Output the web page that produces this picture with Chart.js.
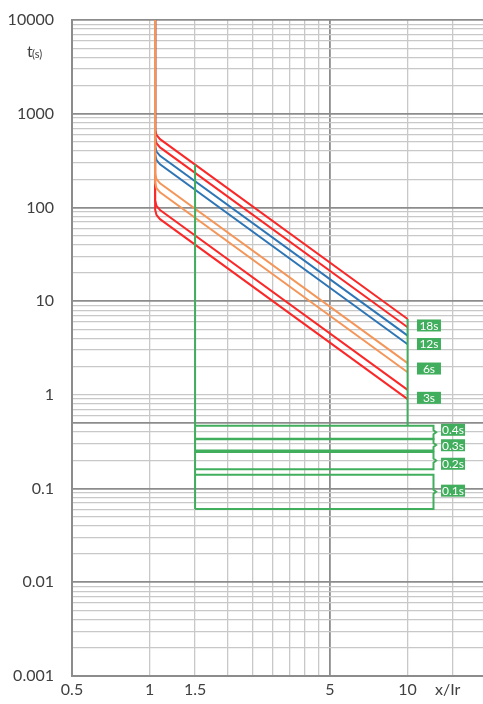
<!DOCTYPE html>
<html>
<head>
<meta charset="utf-8">
<script src="https://cdn.jsdelivr.net/npm/chart.js@4.4.0/dist/chart.umd.min.js"></script>
<style>html,body{margin:0;padding:0;background:#fff}</style>
</head>
<body>
<canvas id="chart" width="483" height="704"></canvas>
<script>
// long-time curves: vertical at 1.05 Ir, rounded knee, then I2t slope to 10 Ir
const curveX = [1.05, 1.05, 1.063, 1.097, 10];
const t18Hi = [10000, 679, 594, 535, 6.45];
const t18Lo = [10000, 554, 485, 437, 5.26];
const t12Hi = [10000, 451, 394, 355, 4.28];
const t12Lo = [10000, 365, 320, 288, 3.47];
const t6Hi = [10000, 229, 201, 181, 2.18];
const t6Lo = [10000, 184, 161, 145, 1.745];
const t3Hi = [10000, 119, 104, 94, 1.13];
const t3Lo = [10000, 95, 83, 75, 0.90];

// short-time bands (green)
const stLeftX = [1.5, 1.5];
const stLeftT = [287, 0.0606];
const stRightX = [10, 10];
const stRightT = [6.45, 0.468];
const bandX = [1.5, 12.6, 12.6, 12.9, 12.6, 12.6, 1.5];
const band04T = [0.468, 0.468, 0.419, 0.399, 0.380, 0.340, 0.340];
const band03T = [0.335, 0.335, 0.307, 0.292, 0.278, 0.255, 0.255];
const band02T = [0.245, 0.245, 0.209, 0.199, 0.189, 0.161, 0.161];
const band01T = [0.1406, 0.1406, 0.097, 0.0923, 0.088, 0.0606, 0.0606];

// setting labels
const boxLabels = ["18s", "12s", "6s", "3s", "0.4s", "0.3s", "0.2s", "0.1s"];
const boxX = [12.1, 12.1, 12.1, 12.1, 15, 15, 15, 15];
const boxY = [5.5, 3.49, 1.91, 0.93, 0.424, 0.29, 0.184, 0.095];

// axes
const xGrid = [0.5, 1, 1.5, 2, 2.5, 3, 3.5, 4, 4.5, 5, 10, 15];
const xLabelVals = [0.5, 1, 1.5, 5, 10];
const xLabels = ["0.5", "1", "1.5", "5", "10"];
const xDark = [0.5, 5];
const yGrid = [];
[0.001, 0.01, 0.1, 1, 10, 100, 1000].forEach(d => {
  for (let m = 1; m < 10; m++) yGrid.push(+(m * d).toPrecision(3));
});
yGrid.push(10000);
const yLabelVals = [0.001, 0.01, 0.1, 1, 10, 100, 1000, 10000];
const yLabels = ["0.001", "0.01", "0.1", "1", "10", "100", "1000", "10000"];
const yDark = [0.001, 0.01, 0.1, 0.5, 10, 100, 1000, 10000];

const RED = "rgb(250,40,40)";
const BLUE = "rgb(46,117,182)";
const ORANGE = "rgb(244,150,90)";
const GREEN = "rgb(64,174,92)";
const FONT = "Lato";

const near = (v, arr) => arr.findIndex(a => Math.abs(a - v) / a < 1e-6);
const pts = (xs, ts) => xs.map((x, i) => ({ x: x, y: ts[i] }));
const line = (xs, ts, color) => ({
  data: pts(xs, ts),
  showLine: true,
  borderColor: color,
  borderWidth: 2,
  pointRadius: 0,
  tension: 0,
  fill: false,
});

const labelPlugin = {
  id: "labels",
  afterDatasetsDraw(chart) {
    const ctx = chart.ctx;
    const xs = chart.scales.x, ys = chart.scales.y;
    ctx.save();
    ctx.font = "12px " + FONT;
    ctx.textAlign = "center";
    ctx.textBaseline = "middle";
    boxLabels.forEach((txt, i) => {
      const px = xs.getPixelForValue(boxX[i]);
      const py = ys.getPixelForValue(boxY[i]);
      ctx.fillStyle = GREEN;
      ctx.fillRect(px - 12, py - 6, 24, 12);
      ctx.fillStyle = "#fff";
      ctx.fillText(txt, px, py + 0.5);
    });
    // axis titles
    ctx.fillStyle = "#404040";
    ctx.textAlign = "left";
    ctx.font = "16px " + FONT;
    ctx.fillText("t", 27, 52);
    ctx.font = "11px " + FONT;
    ctx.fillText("(s)", 32, 54);
    ctx.font = "16px " + FONT;
    ctx.textAlign = "center";
    ctx.fillText("x/Ir", xs.getPixelForValue(14.3), 690);
    ctx.restore();
  },
};

new Chart(document.getElementById("chart"), {
  type: "scatter",
  data: {
    datasets: [
      line(stLeftX, stLeftT, GREEN),
      line(stRightX, stRightT, GREEN),
      line(bandX, band04T, GREEN),
      line(bandX, band03T, GREEN),
      line(bandX, band02T, GREEN),
      line(bandX, band01T, GREEN),
      line(curveX, t6Hi, ORANGE),
      line(curveX, t6Lo, ORANGE),
      line(curveX, t12Hi, BLUE),
      line(curveX, t12Lo, BLUE),
      line(curveX, t18Hi, RED),
      line(curveX, t18Lo, RED),
      line(curveX, t3Hi, RED),
      line(curveX, t3Lo, RED),
    ],
  },
  options: {
    responsive: false,
    animation: false,
    layout: { padding: { top: 20, right: 0, left: 0, bottom: 0 } },
    plugins: { legend: { display: false }, tooltip: { enabled: false } },
    scales: {
      x: {
        type: "logarithmic",
        min: 0.5,
        max: 19.6,
        afterBuildTicks: s => { s.ticks = xGrid.map(v => ({ value: v })); },
        afterFit: s => { s.height = 28; },
        ticks: {
          autoSkip: false,
          maxRotation: 0,
          padding: 4,
          color: "#404040",
          font: { family: FONT, size: 16 },
          callback: v => { const i = near(v, xLabelVals); return i >= 0 ? xLabels[i] : ""; },
        },
        grid: {
          drawTicks: false,
          color: c => near(c.tick.value, xDark) >= 0 ? "rgb(140,140,140)" : "rgb(200,200,200)",
          lineWidth: c => near(c.tick.value, xDark) >= 0 ? 1.8 : 1.3,
        },
        border: { color: "rgb(140,140,140)", width: 2 },
      },
      y: {
        type: "logarithmic",
        min: 0.001,
        max: 10000,
        afterBuildTicks: s => { s.ticks = yGrid.map(v => ({ value: v })); },
        afterFit: s => { s.width = 72; },
        ticks: {
          autoSkip: false,
          padding: 0,
          color: "#404040",
          font: { family: FONT, size: 16 },
          callback: v => { const i = near(v, yLabelVals); return i >= 0 ? yLabels[i] : ""; },
        },
        grid: {
          drawTicks: true,
          tickLength: 18,
          tickColor: "rgba(0,0,0,0)",
          color: c => near(c.tick.value, yDark) >= 0 ? "rgb(140,140,140)" : "rgb(200,200,200)",
          lineWidth: c => near(c.tick.value, yDark) >= 0 ? 1.8 : 1.3,
        },
        border: { color: "rgb(140,140,140)", width: 2 },
      },
    },
  },
  plugins: [labelPlugin],
});
</script>
</body>
</html>
